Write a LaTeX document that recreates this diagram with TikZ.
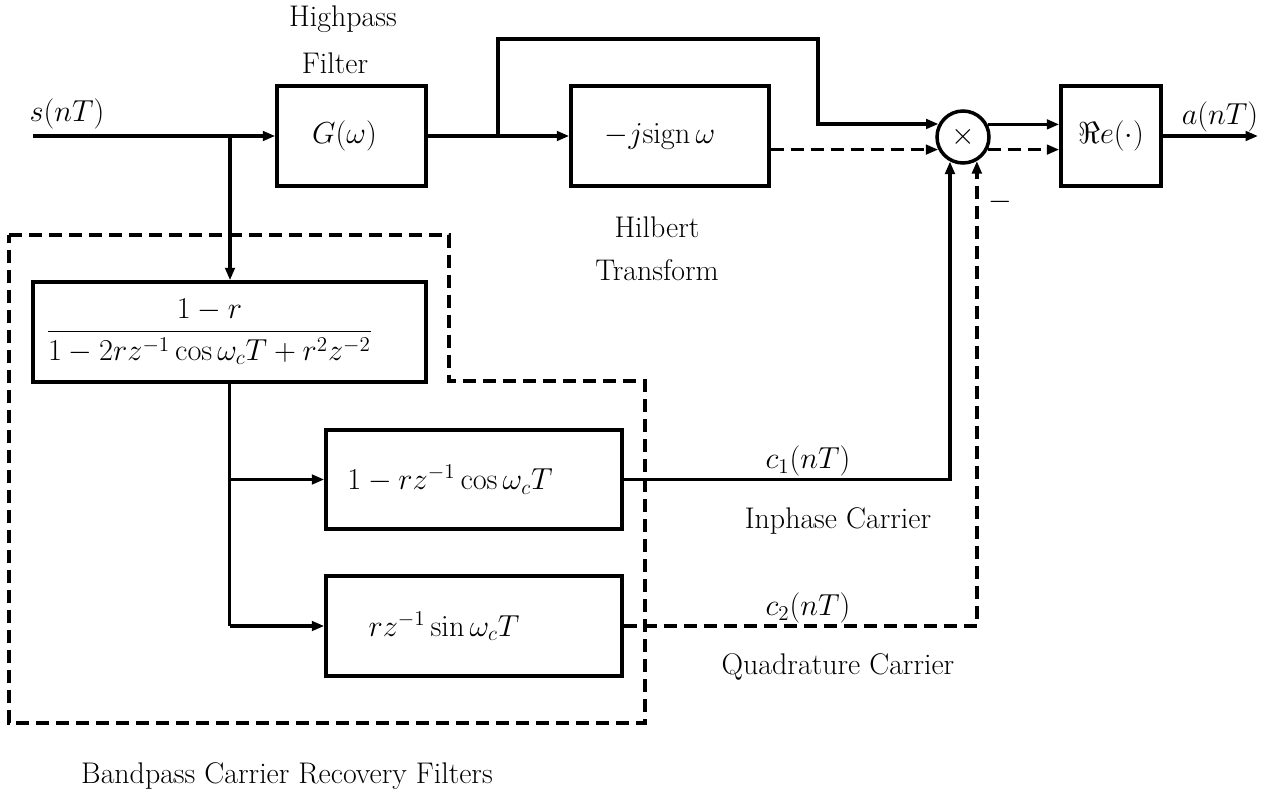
\documentclass[tikz,border=0pt]{standalone}
\usetikzlibrary{arrows.meta}
\begin{document}
\begin{tikzpicture}[x=0.02cm,y=-0.02cm,
  every node/.style={font=\fontsize{17}{20}\selectfont},
  line/.style={line width=2pt},
  arr/.style={line width=2pt,-{Triangle[length=0.25cm,width=0.19cm]}},
  dsh/.style={dash pattern=on 0.26cm off 0.14cm},
  blk/.style={draw,line width=2pt,inner sep=0pt},
  lbl/.style={inner sep=1pt}]
\useasboundingbox (0,0) rectangle (1265,794);
% blocks
\node[blk,minimum width=2.98cm,minimum height=2cm] (G) at (351.5,136) {\hspace*{-0.28cm}$G(\omega)$};
\node[blk,minimum width=3.96cm,minimum height=2cm] (hil) at (670,136) {\hspace*{-0.4cm}$-j\mathrm{sign}\,\omega$};
\node[blk,circle,minimum size=1.04cm] (mul) at (963,137) {$\times$};
\node[blk,minimum width=2cm,minimum height=2cm] (Re) at (1111,136) {$\Re e(\cdot)$};
\node[blk,minimum width=7.86cm,minimum height=2cm,font=\fontsize{16.4}{19}\selectfont] (f1) at (229.5,332) {\hspace*{-0.8cm}$\displaystyle\frac{1-r}{1-2rz^{-1}\cos\omega_cT+r^2z^{-2}}$};
\node[blk,minimum width=5.92cm,minimum height=1.98cm] (f2) at (474,479.5) {\hspace*{-0.96cm}$1-rz^{-1}\cos\omega_cT$};
\node[blk,minimum width=5.92cm,minimum height=2cm] (f3) at (474,626) {\hspace*{-1.2cm}$rz^{-1}\sin\omega_cT$};
% labels
\node[lbl] (lhp) at (343,19) {Highpass};
\node[lbl] (lfi) at (335,63) {Filter};
\node[lbl] (lhi) at (657,227) {Hilbert};
\node[lbl] (ltr) at (657,270) {Transform};
\node[lbl] (ls) at (67,114) {$s(nT)$};
\node[lbl] (la) at (1220,117) {$a(nT)$};
\node[lbl] (lminus) at (1000,202) {$-$};
\node[lbl] (lc1) at (808,461) {$c_1(nT)$};
\node[lbl] (lic) at (838,521) {Inphase Carrier};
\node[lbl] (lc2) at (808,608) {$c_2(nT)$};
\node[lbl] (lqc) at (838,667) {Quadrature Carrier};
\node[lbl] (lbp) at (287,776) {Bandpass Carrier Recovery Filters};
% coordinates
\coordinate (sin) at (33,136);
\coordinate (b1) at (230,136);
\coordinate (b2) at (498,136);
\coordinate (aout) at (1258,136);
% connectors
\draw[arr] (sin) -- (G.west);
\draw[arr] (b1) -- (b1 |- f1.north);
\draw[arr] (G.east) -- (hil.west);
\draw[arr] (b2) -- ++(0,-97) -- ++(320,0) |- (mul.152.5);
\draw[arr,dsh] (mul.207.5 -| hil.east) -- (mul.207.5);
\draw[arr] (mul.27.5) -- (mul.27.5 -| Re.west);
\draw[arr,dsh] (mul.-27.5) -- (mul.-27.5 -| Re.west);
\draw[arr] (Re.east) -- (aout);
\draw[line] (f1.south) -- (f1.south |- f3.west);
\draw[arr] (f1.south |- f2.west) -- (f2.west);
\draw[arr] (f1.south |- f3.west) -- (f3.west);
\draw[arr] (f2.east) -- (f2.east -| mul.242.5) -- (mul.242.5);
\draw[arr,dsh] (f3.east) -- (f3.east -| mul.300) -- (mul.300);
% dashed enclosure
\draw[line,dsh] (9,235) -- (449,235) -- (449,381) -- (645,381) -- (645,723) -- (9,723) -- cycle;
\end{tikzpicture}
\end{document}
